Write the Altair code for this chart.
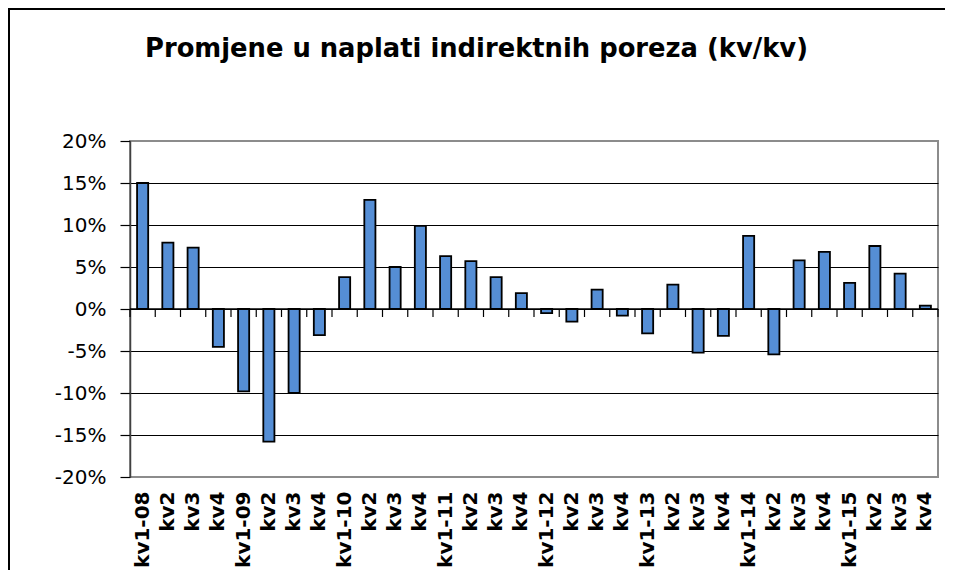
import json
import altair as alt
import pandas as pd

labels = ["kv1-08", "kv2", "kv3", "kv4",
          "kv1-09", "kv2", "kv3", "kv4",
          "kv1-10", "kv2", "kv3", "kv4",
          "kv1-11", "kv2", "kv3", "kv4",
          "kv1-12", "kv2", "kv3", "kv4",
          "kv1-13", "kv2", "kv3", "kv4",
          "kv1-14", "kv2", "kv3", "kv4",
          "kv1-15", "kv2", "kv3", "kv4"]
values = [15.0, 7.9, 7.3, -4.5,
          -9.8, -15.8, -10.0, -3.1,
          3.8, 13.0, 5.0, 9.9,
          6.3, 5.7, 3.8, 1.9,
          -0.5, -1.5, 2.3, -0.8,
          -2.9, 2.9, -5.2, -3.2,
          8.7, -5.4, 5.8, 6.8,
          3.1, 7.5, 4.2, 0.4]
y_ticks = [-20, -15, -10, -5, 0, 5, 10, 15, 20]
TITLE = "Promjene u naplati indirektnih poreza (kv/kv)"

FONT = "DejaVu Sans"
BAR_COLOR = "#558ed5"

idx = list(range(len(labels)))
df = pd.DataFrame({"idx": idx, "val": values})
ticks_df = pd.DataFrame({"idx": idx})
end_df = pd.DataFrame({"idx": [idx[-1]]})
one = pd.DataFrame({"a": [0]})

x_scale = alt.Scale(domain=idx, paddingInner=0, paddingOuter=0)
x_axis = alt.Axis(
    labelExpr=json.dumps(labels) + "[datum.value]",
    labelAngle=-90, labelFont=FONT, labelFontWeight="bold", labelFontSize=20,
    labelColor="black", labelPadding=14, labelOverlap=False,
    ticks=False, domain=False, grid=False, title=None,
)
y_scale = alt.Scale(domain=[-20, 20])
y_axis = alt.Axis(
    values=y_ticks, labelExpr="datum.value + '%'",
    labelFont=FONT, labelFontSize=20, labelColor="black", labelPadding=14,
    tickSize=10, tickColor="black", tickWidth=1.2,
    domainColor="#404040", domainWidth=1.5,
    grid=True,
    gridColor={"condition": {"test": "abs(datum.value) == 20", "value": "#8c8c8c"}, "value": "black"},
    gridWidth=1.2, title=None,
)

bars = alt.Chart(df).mark_bar(
    width={"band": 0.44}, color=BAR_COLOR, stroke="black", strokeWidth=1.8
).encode(
    x=alt.X("idx:O", scale=x_scale, axis=x_axis),
    y=alt.Y("val:Q", scale=y_scale, axis=y_axis),
)

zero = alt.Chart(one).mark_rule(color="black", strokeWidth=1.5).encode(
    y=alt.datum(0)
)

ticks = alt.Chart(ticks_df).mark_rule(color="black", strokeWidth=1.2, y2Offset=8).encode(
    x=alt.X("idx:O", bandPosition=0, scale=x_scale, axis=x_axis),
    y=alt.datum(0), y2=alt.datum(0),
)
end_tick = alt.Chart(end_df).mark_rule(color="black", strokeWidth=1.2, y2Offset=8).encode(
    x=alt.X("idx:O", bandPosition=1, scale=x_scale, axis=x_axis),
    y=alt.datum(0), y2=alt.datum(0),
)

# outer frame of the figure (only its top and left edges fall inside the picture),
# drawn as thin filled strips
frame_top = alt.Chart(one).mark_rect(color="black").encode(
    x=alt.value(-122), x2=alt.value(815), y=alt.value(-133), y2=alt.value(-131)
)
frame_left = alt.Chart(one).mark_rect(color="black").encode(
    x=alt.value(-122), x2=alt.value(-120), y=alt.value(-133), y2=alt.value(429)
)

title = alt.Chart(one).mark_text(
    text=TITLE, font=FONT, fontSize=25.8, fontWeight="bold",
    align="left", baseline="alphabetic", color="black"
).encode(x=alt.value(15), y=alt.value(-84))

chart = alt.layer(zero, bars, ticks, end_tick, frame_top, frame_left, title).properties(
    width=808, height=336,
    padding={"left": 122, "top": 133, "right": 11, "bottom": 97},
    autosize="none",
).configure_view(stroke="#8c8c8c", strokeWidth=2)

chart.save("out.html", embed_options={"renderer": "svg", "actions": False})
